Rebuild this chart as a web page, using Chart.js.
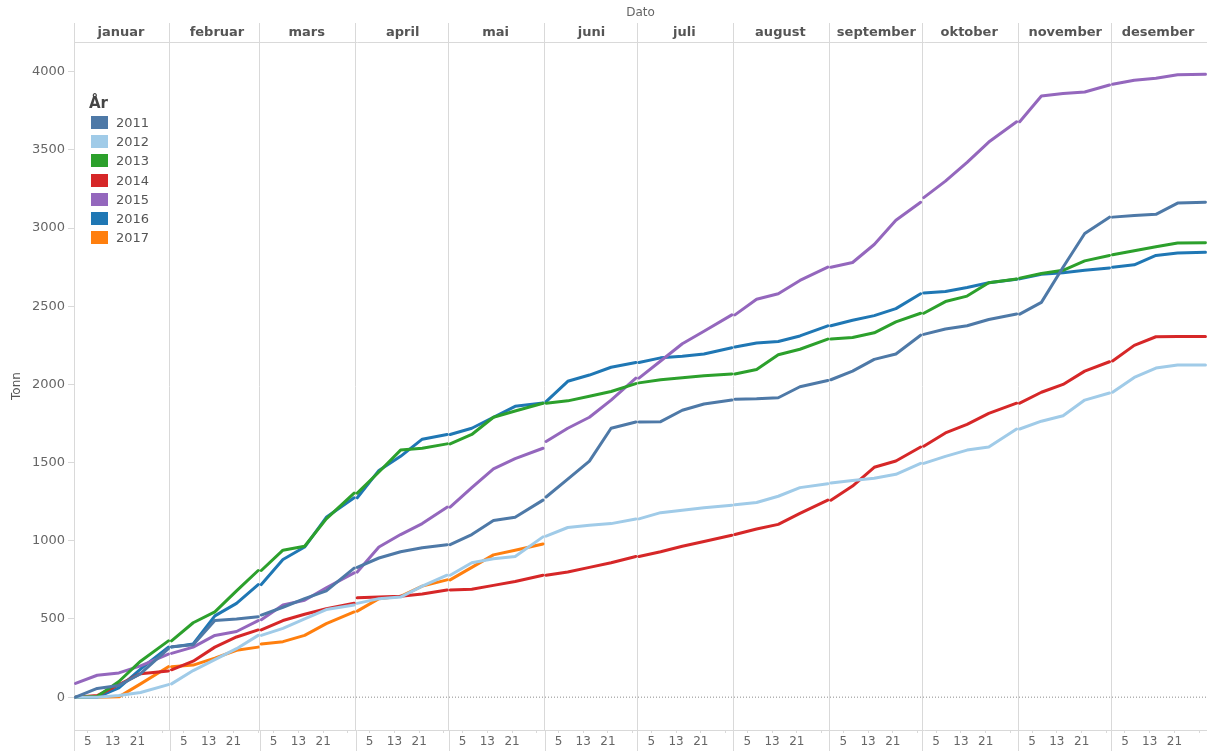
<!DOCTYPE html>
<html>
<head>
<meta charset="utf-8">
<script src="https://cdn.jsdelivr.net/npm/chart.js@4/dist/chart.umd.min.js"></script>
<style>
  html, body { margin: 0; padding: 0; background: #fff; }
  #wrap { position: relative; width: 1207px; height: 751px; }
  #legend { position: absolute; left: 89px; top: 93px; font-family: "DejaVu Sans", sans-serif; }
  #legend .ttl { font-weight: bold; font-size: 15px; color: #444; height: 20px; line-height: 20px; }
  #legend .row { height: 19.2px; display: flex; align-items: center; font-size: 13px; color: #555; }
  #legend .sw { width: 17px; height: 13px; margin: 0 8px 0 2px; }
</style>
</head>
<body>
<div id="wrap">
  <canvas id="c"></canvas>
  <div id="legend"></div>
</div>
<script>
// ---- data ----
const months = ['januar','februar','mars','april','mai','juni','juli','august','september','oktober','november','desember'];
const monthDays = [31,29,31,30,31,30,31,31,30,31,30,31];
const sampleDays = [1, 8, 15, 22, 0];          // 0 = last day of month
const dayTicks = [5, 13, 21, 29];
const dayTickLabels = ['5', '13', '21', ''];
const yTicks = [0, 500, 1000, 1500, 2000, 2500, 3000, 3500, 4000];
const years = ['2011','2012','2013','2014','2015','2016','2017'];
const colors = ['#4e79a7','#a0cbe8','#2ca02c','#d62728','#9467bd','#1f77b4','#ff7f0e'];

const v2011 = [0,56,75,150,310, 322,335,490,500,515, 525,575,630,680,825, 830,890,930,955,975,
  975,1040,1130,1150,1260, 1280,1395,1510,1720,1760, 1760,1762,1835,1875,1900, 1905,1908,1915,1985,2025,
  2030,2085,2160,2195,2315, 2320,2355,2375,2415,2450, 2450,2525,2750,2965,3070, 3070,3080,3088,3160,3165];
const v2012 = [0,0,10,30,80, 85,170,240,310,395, 395,440,500,560,590, 600,630,640,710,780,
  780,860,885,900,1025, 1030,1085,1100,1110,1140, 1140,1180,1195,1212,1228, 1230,1245,1285,1340,1365,
  1370,1385,1400,1425,1495, 1495,1540,1580,1600,1715, 1715,1765,1800,1900,1945, 1950,2045,2105,2125,2125];
const v2013 = [0,5,100,230,360, 360,476,545,680,810, 810,940,965,1140,1305, 1305,1440,1580,1592,1620,
  1620,1680,1790,1830,1880, 1880,1895,1925,1955,2005, 2010,2030,2042,2055,2067, 2067,2095,2190,2225,2290,
  2290,2300,2330,2400,2455, 2455,2530,2565,2650,2675, 2680,2710,2730,2790,2825, 2830,2855,2880,2905,2906];
const v2014 = [0,10,80,150,168, 175,230,320,385,430, 430,490,530,565,600, 635,640,645,660,685,
  685,690,715,740,780, 780,800,830,860,900, 900,930,965,995,1035, 1040,1075,1105,1175,1260,
  1260,1350,1470,1510,1600, 1605,1690,1745,1815,1880, 1880,1950,2000,2085,2145, 2150,2250,2305,2306,2306];
const v2015 = [88,140,155,200,275, 280,320,395,420,490, 495,590,620,700,795, 800,960,1040,1110,1215,
  1215,1340,1460,1525,1592, 1635,1720,1790,1900,2040, 2040,2150,2260,2340,2445, 2445,2545,2580,2665,2750,
  2750,2780,2895,3050,3165, 3195,3300,3420,3550,3680, 3680,3845,3860,3870,3915, 3920,3945,3958,3980,3983];
const v2016 = [0,0,60,180,320, 320,340,520,600,720, 720,880,960,1150,1275, 1275,1450,1540,1650,1680,
  1680,1720,1790,1860,1882, 1890,2020,2060,2110,2140, 2140,2170,2180,2195,2235, 2240,2265,2275,2310,2375,
  2375,2410,2440,2485,2580, 2585,2595,2620,2650,2672, 2675,2705,2715,2730,2745, 2750,2765,2825,2840,2845];
const v2017 = [0,0,2,85,195, 195,205,250,300,320, 340,355,395,470,545, 550,630,645,710,750,
  750,830,910,940,980];
const seriesValues = [v2011, v2012, v2013, v2014, v2015, v2016, v2017];

// ---- helpers ----
const monthStart = [];
monthDays.reduce((acc, d, i) => { monthStart[i] = acc; return acc + d; }, 0);
const totalDays = monthDays.reduce((a, b) => a + b, 0);

function buildPoints(vals) {
  const pts = [];
  for (let m = 0; m < 12; m++) {
    let any = false;
    sampleDays.forEach((s, i) => {
      const v = vals[m * sampleDays.length + i];
      if (v === undefined || v === null) return;
      const d = s || monthDays[m];
      pts.push({ x: monthStart[m] + d - 0.5, y: v });
      any = true;
    });
    if (any) pts.push({ x: monthStart[m] + monthDays[m], y: null });
  }
  return pts;
}

const datasets = years.map((y, i) => ({
  label: y,
  data: buildPoints(seriesValues[i]),
  borderColor: colors[i],
  backgroundColor: colors[i],
  borderWidth: 3,
  pointRadius: 0,
  tension: 0,
  spanGaps: false,
  borderJoinStyle: 'round',
  borderCapStyle: 'round'
}));
datasets.push({
  label: 'zero',
  data: [{ x: 0, y: 0 }, { x: totalDays, y: 0 }],
  borderColor: '#8a8a8a',
  borderWidth: 1,
  borderDash: [1, 2],
  pointRadius: 0,
  order: 10
});

const boundaryTicks = monthStart.concat([totalDays]);
const bottomTicks = [];
monthStart.forEach(s => dayTicks.forEach(d => bottomTicks.push(s + d - 0.5)));

const FONT = '"DejaVu Sans", sans-serif';
const GRID = '#d9d9d9';

const panelFooter = {
  id: 'panelFooter',
  afterDraw(chart) {
    const xs = chart.scales.x;
    const ctx = chart.ctx;
    ctx.save();
    ctx.strokeStyle = GRID;
    ctx.lineWidth = 1;
    boundaryTicks.forEach(v => {
      const px = Math.round(xs.getPixelForValue(v)) + 0.5;
      ctx.beginPath();
      ctx.moveTo(px, chart.chartArea.bottom);
      ctx.lineTo(px, chart.height);
      ctx.stroke();
    });
    ctx.restore();
  }
};

new Chart(document.getElementById('c'), {
  type: 'line',
  data: { datasets },
  plugins: [panelFooter],
  options: {
    responsive: true,
    maintainAspectRatio: false,
    animation: false,
    layout: { padding: 0 },
    plugins: { legend: { display: false }, tooltip: { enabled: false } },
    scales: {
      x: {
        type: 'linear', position: 'bottom', min: 0, max: totalDays,
        afterBuildTicks: s => { s.ticks = bottomTicks.map(v => ({ value: v })); },
        afterFit: s => { s.height = 21; },
        ticks: {
          autoSkip: false, maxRotation: 0, padding: 2,
          color: '#666', font: { family: FONT, size: 12 },
          callback: (v, i) => dayTickLabels[i % dayTicks.length]
        },
        grid: { drawOnChartArea: false, drawTicks: true, tickLength: 3, tickColor: GRID },
        border: { display: true, color: GRID }
      },
      xTop: {
        type: 'linear', position: 'top', min: 0, max: totalDays,
        afterBuildTicks: s => { s.ticks = boundaryTicks.map(v => ({ value: v })); },
        afterFit: s => { s.height = 42; },
        ticks: {
          autoSkip: false, maxRotation: 0, padding: -17, labelOffset: 47,
          color: '#555', font: { family: FONT, size: 13, weight: 'bold' },
          callback: (v, i) => months[i] || ''
        },
        grid: { drawOnChartArea: true, color: GRID, drawTicks: true, tickLength: 19, tickColor: GRID },
        border: { display: true, color: GRID },
        title: { display: true, text: 'Dato', color: '#666', font: { family: FONT, size: 12 }, padding: { top: 6, bottom: 0 } }
      },
      y: {
        type: 'linear', position: 'left', min: -210, max: 4190,
        afterBuildTicks: s => { s.ticks = yTicks.map(v => ({ value: v })); },
        afterFit: s => { s.width = 74; },
        ticks: { color: '#666', font: { family: FONT, size: 13 }, padding: 3, callback: v => String(v) },
        grid: { drawOnChartArea: false, drawTicks: true, tickLength: 6, tickColor: GRID },
        border: { display: true, color: GRID },
        title: { display: true, text: 'Tonn', color: '#555', font: { family: FONT, size: 12 }, padding: { top: 10, bottom: 0 } }
      }
    }
  }
});

// ---- legend (HTML) ----
const lg = document.getElementById('legend');
const t = document.createElement('div'); t.className = 'ttl'; t.textContent = 'År'; lg.appendChild(t);
years.forEach((y, i) => {
  const r = document.createElement('div'); r.className = 'row';
  const sw = document.createElement('span'); sw.className = 'sw'; sw.style.background = colors[i];
  const tx = document.createElement('span'); tx.textContent = y;
  r.appendChild(sw); r.appendChild(tx); lg.appendChild(r);
});
</script>
</body>
</html>
